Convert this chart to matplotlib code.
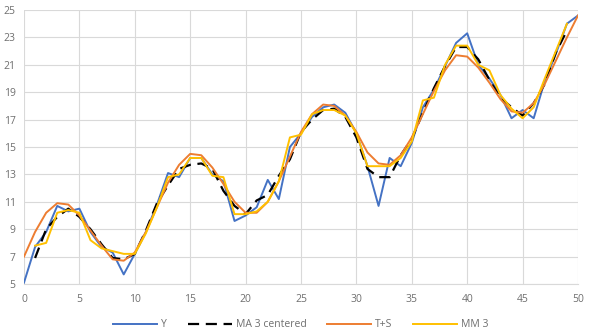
import numpy as np
import matplotlib
matplotlib.use("Agg")
import matplotlib.pyplot as plt

plt.rcParams['font.family'] = ['Open Sans', 'DejaVu Sans']

# series
x_full = list(range(0, 51))
x_inner = list(range(1, 50))

y = [5.1, 7.7, 8.8, 10.7, 10.3, 10.5, 8.8, 7.7, 7.3, 5.7,
     7.2, 8.8, 10.8, 13.1, 12.8, 14.2, 14.2, 13.0, 12.5, 9.6,
     10.0, 10.6, 12.6, 11.2, 15.0, 16.0, 17.2, 17.9, 18.1, 17.5,
     16.0, 13.6, 10.7, 14.2, 13.6, 15.3, 17.9, 19.2, 20.9, 22.6,
     23.3, 21.0, 20.0, 18.8, 17.1, 17.7, 17.1, 19.8, 21.8, 24.0,
     24.6]

ma3_centered = [6.9, 9.0, 9.9, 10.5, 9.9, 9.0, 7.9, 6.9, 6.8,
                7.2, 8.9, 10.9, 12.2, 13.4, 13.7, 13.8, 13.4, 11.8, 10.7,
                10.1, 11.1, 11.5, 12.9, 14.1, 16.1, 17.0, 17.7, 17.8, 17.2,
                15.7, 13.4, 12.8, 12.8, 14.4, 15.6, 17.5, 19.3, 20.9, 22.3,
                22.3, 21.4, 19.9, 18.6, 17.9, 17.3, 18.2, 19.6, 21.9, 23.5]

t_plus_s = [7.0, 8.8, 10.2, 10.9, 10.8, 10.0, 8.9, 7.8, 6.8, 6.7,
            7.3, 8.8, 10.6, 12.4, 13.7, 14.5, 14.4, 13.5, 12.3, 11.0,
            10.2, 10.2, 11.0, 12.5, 14.3, 16.1, 17.4, 18.1, 18.0, 17.3,
            16.1, 14.6, 13.8, 13.7, 14.4, 15.7, 17.4, 19.1, 20.6, 21.7,
            21.6, 20.8, 19.7, 18.5, 17.6, 17.5, 18.2, 19.6, 21.3, 23.0,
            24.6]

mm3 = [7.8, 8.0, 10.2, 10.4, 10.2, 8.2, 7.6, 7.4, 7.2,
       7.2, 8.7, 10.6, 12.8, 13.0, 14.2, 14.2, 12.9, 12.8, 10.1,
       10.1, 10.3, 11.0, 12.5, 15.7, 15.9, 17.4, 17.7, 17.7, 17.3,
       16.0, 13.6, 13.6, 13.6, 14.2, 15.4, 18.4, 18.6, 21.0, 22.4,
       22.4, 21.0, 20.6, 18.8, 17.8, 17.1, 17.9, 20.0, 22.0, 24.0]

fig = plt.figure(figsize=(5.91, 3.34), dpi=100)
ax = fig.add_axes([0.0406, 0.1497, 0.9374, 0.8203])

ax.plot(x_full, y, color='#4472C4', lw=1.4, label='Y')
ax.plot(x_inner, ma3_centered, color='black', lw=1.6, ls=(0, (5, 3)), label='MA 3 centered')
ax.plot(x_full, t_plus_s, color='#ED7D31', lw=1.4, label='T+S')
ax.plot(x_inner, mm3, color='#FFC000', lw=1.4, label='MM 3')

ax.set_xlim(0, 50)
ax.set_ylim(5, 25)
ax.set_xticks(range(0, 51, 5))
ax.set_yticks(range(5, 26, 2))
ax.grid(True, color='#D9D9D9', lw=0.8)
ax.set_axisbelow(True)
for s in ['top', 'right', 'left']:
    ax.spines[s].set_visible(False)
ax.spines['bottom'].set_color('#D9D9D9')
ax.tick_params(length=0, labelsize=7.5, colors='#6F6F6F')
ax.tick_params(axis='x', pad=7)
ax.tick_params(axis='y', pad=6)

ax.legend(loc='upper center', bbox_to_anchor=(0.5, -0.095), ncol=4, frameon=False,
          fontsize=7.5, labelcolor='#6F6F6F', handlelength=4.2, columnspacing=2.0,
          handletextpad=0.4)

fig.savefig('out.png', dpi=100)
